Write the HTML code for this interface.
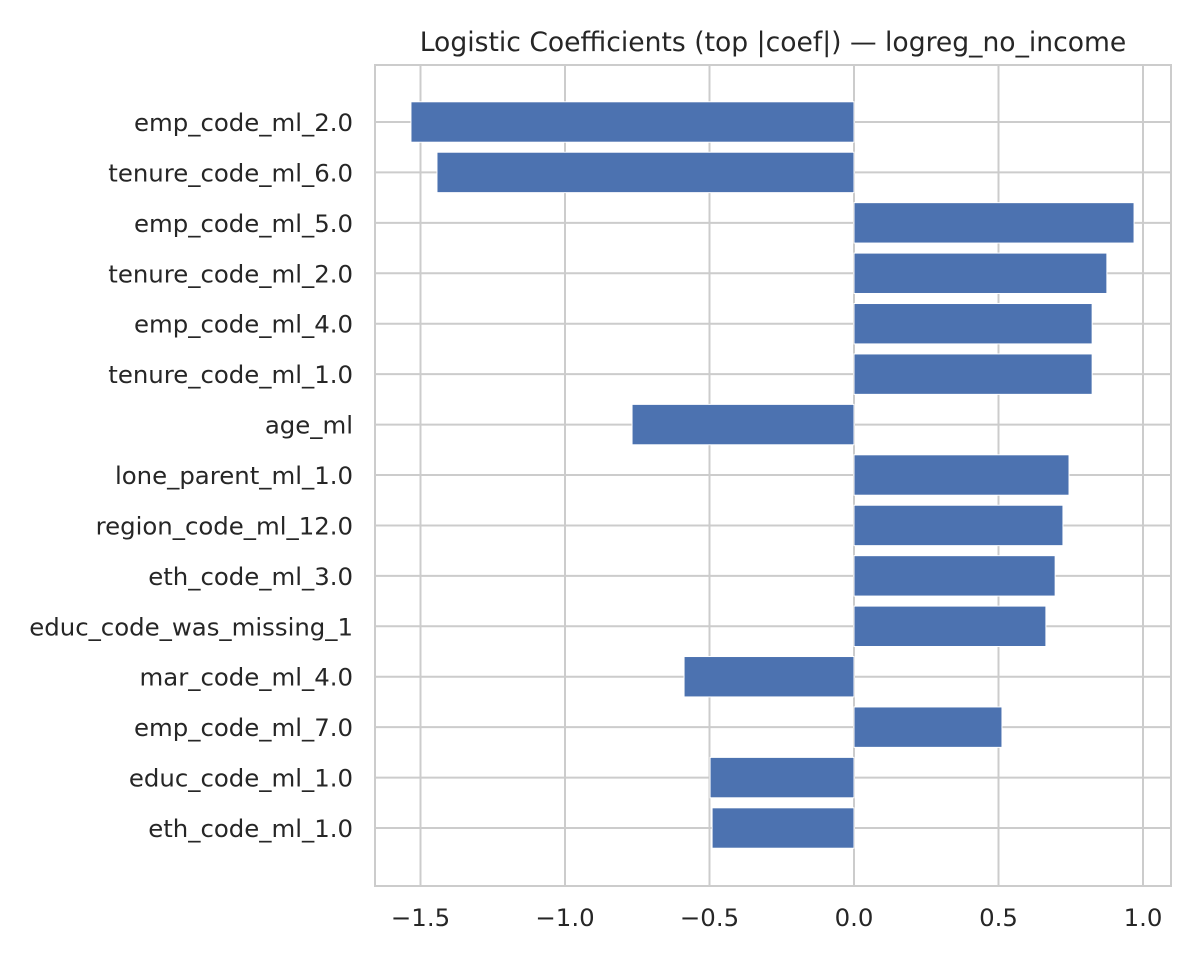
<!DOCTYPE html>
<html><head><meta charset="utf-8"><style>
body{margin:0;background:#fff;}
svg text{font-family:"DejaVu Sans","Liberation Sans",sans-serif;fill:#262626;}
</style></head><body>
<svg id="chart" width="1200" height="960" xmlns="http://www.w3.org/2000/svg">
<text x="773" y="51" font-size="26.6" text-anchor="middle">Logistic Coefficients (top |coef|) — logreg_no_income</text>
<g id="grid"></g><g id="bars"></g><g id="labels"></g>
<rect x="375" y="65" width="796" height="821" fill="none" stroke="#cccccc" stroke-width="2"/>
</svg>
<script>
const features=["emp_code_ml_2.0","tenure_code_ml_6.0","emp_code_ml_5.0","tenure_code_ml_2.0","emp_code_ml_4.0","tenure_code_ml_1.0","age_ml","lone_parent_ml_1.0","region_code_ml_12.0","eth_code_ml_3.0","educ_code_was_missing_1","mar_code_ml_4.0","emp_code_ml_7.0","educ_code_ml_1.0","eth_code_ml_1.0"];
const coefs=[-1.533,-1.443,0.969,0.875,0.824,0.824,-0.768,0.744,0.723,0.696,0.664,-0.588,0.512,-0.498,-0.491];
const xTicks=[-1.5,-1.0,-0.5,0.0,0.5,1.0];
const xTickLabels=["−1.5","−1.0","−0.5","0.0","0.5","1.0"];
const NS="http://www.w3.org/2000/svg";
const X=v=>854+v*289;
const Y=i=>122+i*50.43;
function mk(t,a,p){const e=document.createElementNS(NS,t);for(const k in a)e.setAttribute(k,a[k]);p.appendChild(e);return e;}
const grid=document.getElementById('grid'),bars=document.getElementById('bars'),labels=document.getElementById('labels');
xTicks.forEach((v,i)=>{
 const l=mk('line',{x1:X(v),x2:X(v),y1:65,y2:886,stroke:'#cccccc','stroke-width':2},grid);
 
 
 const t=mk('text',{x:X(v),y:926,'font-size':24.4,'text-anchor':'middle'},labels);
 t.textContent=xTickLabels[i];
 
 
});
features.forEach((f,i)=>{
 const g=mk('line',{x1:375,x2:1171,y1:Y(i),y2:Y(i),stroke:'#cccccc','stroke-width':2},grid);
 
 
 const v=coefs[i];
 const r=mk('rect',{x:Math.min(X(0),X(v)),y:Y(i)-20.2,width:Math.abs(X(v)-X(0)),height:40.4,fill:'#4c72b0',stroke:'#ffffff','stroke-width':1},bars);
 
 
 const t=mk('text',{x:353,y:Y(i)+9,'font-size':24.4,'text-anchor':'end'},labels);
 t.textContent=f;
 
 
});
</script>
</body></html>
